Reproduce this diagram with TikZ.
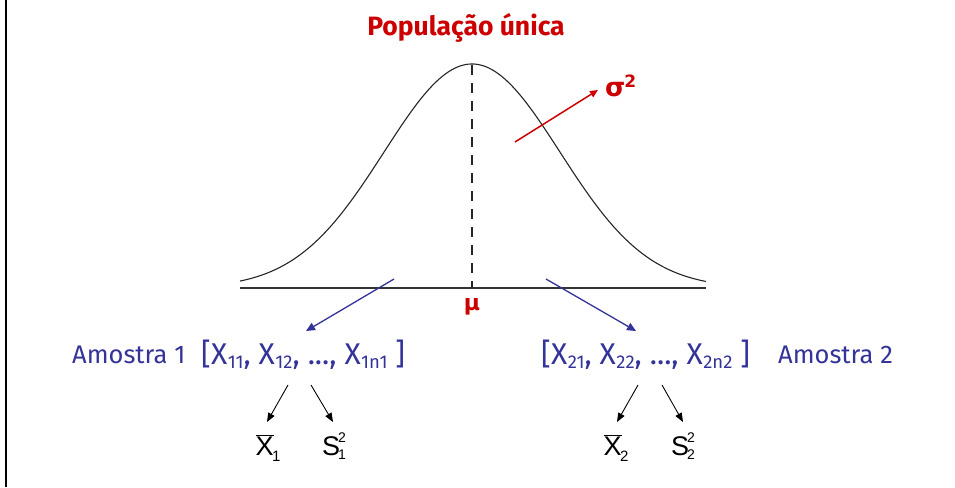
\documentclass[tikz,border=0pt]{standalone}
\usepackage{fontspec}
\setmainfont{Fira Sans}
\newfontfamily\arialf{Liberation Sans}
\newfontfamily\dejav{DejaVu Sans}
\usetikzlibrary{arrows.meta}
\definecolor{popred}{RGB}{204,0,0}
\definecolor{popblue}{RGB}{51,51,153}
\tikzset{
  redtxt/.style={text=popred,font=\fontsize{26.5}{28}\selectfont\bfseries,inner sep=0pt},
  bluetxt/.style={text=popblue,font=\fontsize{25.5}{28}\selectfont,inner sep=0pt,anchor=base west},
  brtxt/.style={text=popblue,font=\fontsize{30}{32}\selectfont,inner sep=0pt,anchor=base west},
  stattxt/.style={font=\arialf\fontsize{27}{28}\selectfont,inner sep=0pt,anchor=base},
  smallidx/.style={font=\arialf\fontsize{14}{14}\selectfont,inner sep=0pt,anchor=base west},
  bluearr/.style={draw=popblue,line width=1.3pt,-{Triangle[length=9pt,width=8pt]}},
  blackarr/.style={draw=black,line width=0.9pt,-{Triangle[length=9pt,width=7pt]}},
  redarr/.style={draw=popred,line width=1.5pt,-{Triangle[length=8pt,width=7pt]}},
}
\newcommand{\subn}[1]{\kern0.5pt\raisebox{-4pt}{\fontsize{18.5}{18.5}\selectfont #1}}
\newcommand{\xbar}[1]{$\overline{\mbox{X}}$\kern-1.5pt\raisebox{-6pt}{\fontsize{15}{15}\selectfont #1}}
\begin{document}
\begin{tikzpicture}[x=1pt,y=-1pt]
\useasboundingbox (0,0) rectangle (955,487);
\fill[white] (0,0) rectangle (955,487);
\draw[line width=2pt] (6,0) -- (6,487);
% title
\node[redtxt] (title) at (466,28) {População única};
% curve
\draw[line width=1.1pt,black!85,domain=240:706,samples=140,smooth] plot (\x,{288-224*exp(-0.5*((\x-472)/88)^2)});
\draw[line width=1.6pt,black!80] (240,288) -- (706,288);
\coordinate (peak) at (472,65);
\coordinate (foot) at (472,288);
\draw[line width=1.3pt,black!85,dash pattern=on 10pt off 8pt] (peak) -- (foot);
% sigma
\coordinate (rs) at (515,142);
\coordinate (re) at (598,90);
\draw[redarr] (rs) -- (re);
\node[text=popred,font=\dejav\fontsize{26}{26}\selectfont\bfseries,inner sep=0pt,anchor=base west] (sig) at (605,96) {σ\kern-1pt\raisebox{9pt}{\fontsize{17}{17}\selectfont 2}};
\node[text=popred,font=\dejav\fontsize{22}{24}\selectfont\bfseries,inner sep=0pt] (mu) at (472,307) {μ};
% samples
\node[bluetxt] (am1) at (72,363) {Amostra 1};
\node[brtxt] (s1) at (201,364) {[X\subn{11}, X\subn{12}, ..., X\subn{1n1} ]};
\node[brtxt] (s2) at (541,364) {[X\subn{21}, X\subn{22}, ..., X\subn{2n2} ]};
\node[bluetxt] (am2) at (778,363) {Amostra 2};
\coordinate (b1s) at (394,279);
\coordinate (b1e) at (306,331);
\coordinate (b2s) at (546,279);
\coordinate (b2e) at (636,331);
\draw[bluearr] (b1s) -- (b1e);
\draw[bluearr] (b2s) -- (b2e);
% stats
\node[stattxt] (x1) at (268,455) {\xbar{1}};
\node[stattxt] (v1) at (331,455) {S};
\node[smallidx] (v1p) at (338,442) {2};
\node[smallidx] (v1s) at (338,459) {1};
\node[stattxt] (x2) at (616,455) {\xbar{2}};
\node[stattxt] (v2) at (680,455) {S};
\node[smallidx] (v2p) at (687,442) {2};
\node[smallidx] (v2s) at (687,459) {2};
\coordinate (a1) at (288,385);
\coordinate (e1) at (267,422);
\coordinate (a2) at (311,385);
\coordinate (e2) at (333,422);
\coordinate (a3) at (638,385);
\coordinate (e3) at (617,422);
\coordinate (a4) at (662,385);
\coordinate (e4) at (683,422);
\draw[blackarr] (a1) -- (e1);
\draw[blackarr] (a2) -- (e2);
\draw[blackarr] (a3) -- (e3);
\draw[blackarr] (a4) -- (e4);
\end{tikzpicture}
\end{document}
